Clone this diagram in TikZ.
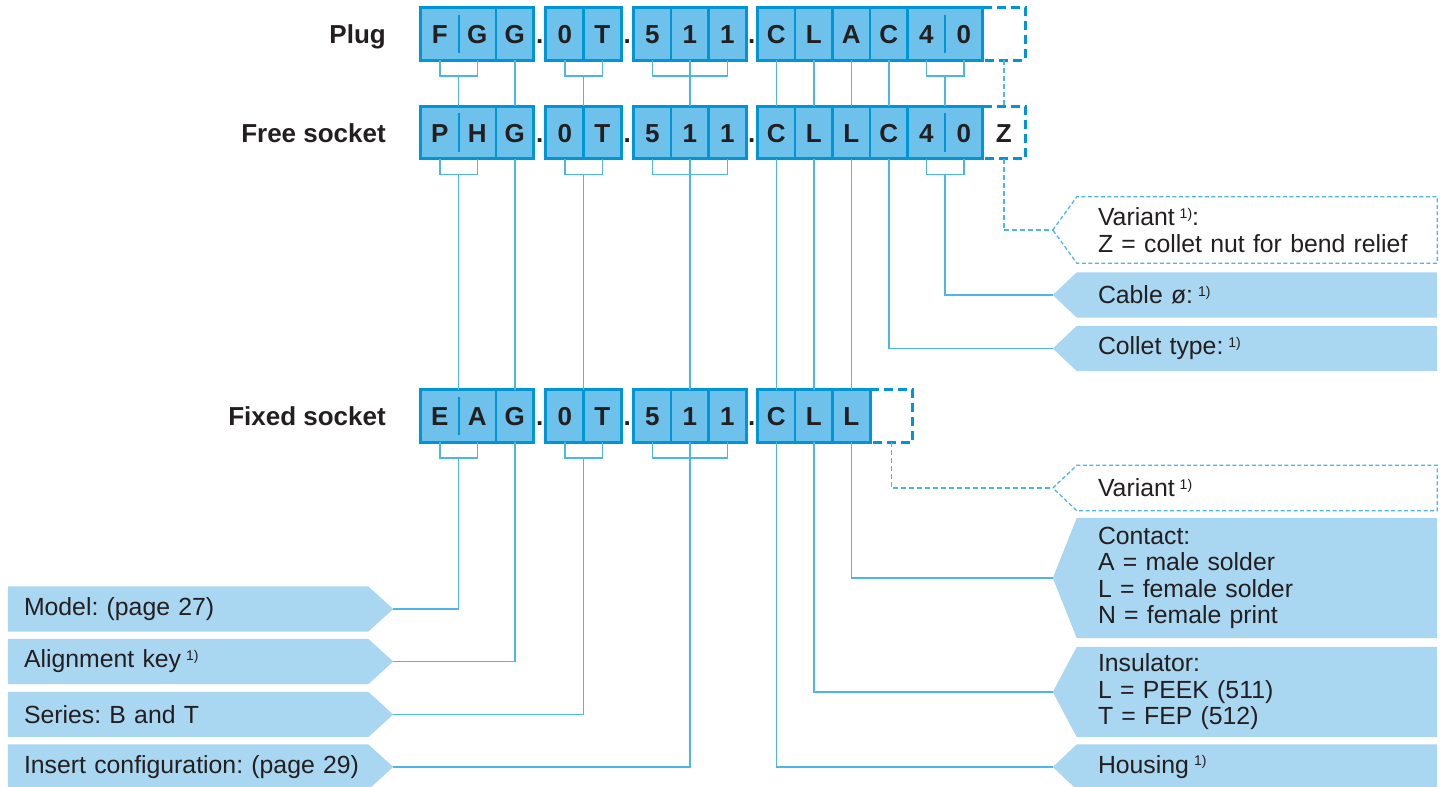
\documentclass[tikz,border=0pt]{standalone}
\usepackage{fontspec}
\setmainfont{Liberation Sans}
\usetikzlibrary{positioning,backgrounds}

\definecolor{cellfill}{HTML}{6EC1EA}
\definecolor{cellline}{HTML}{0095D5}
\definecolor{lblfill}{HTML}{A9D6F1}
\definecolor{linkc}{HTML}{4DB6E6}
\definecolor{textc}{HTML}{231F20}

\newcommand\fnote{\hspace{5pt}{\fontsize{14}{14}\selectfont\raisebox{7.5pt}{1)}}}

\tikzset{
  cell/.style={fill=cellfill, minimum width=37.5pt, minimum height=52pt, inner sep=0pt, text=textc, font=\bfseries\fontsize{26}{26}\selectfont, text height=19pt, text depth=0pt},
  varcell/.style={cell, fill=none, minimum width=42.5pt},
  dotmark/.style={cell, fill=none, minimum width=10pt},
  divline/.style={draw=cellline, line width=2.5pt},
  pairline/.style={draw=cellline, line width=1.8pt},
  grpline/.style={draw=cellline, line width=3.2pt},
  varline/.style={draw=cellline, line width=3pt, dash pattern=on 9pt off 5pt},
  link/.style={draw=linkc, line width=1.5pt},
  varlink/.style={link, dash pattern=on 5pt off 3pt},
  varbox/.style={draw=linkc, line width=1.3pt, dash pattern=on 4pt off 2.5pt, fill=white},
  rowlbl/.style={text=textc, font=\bfseries\fontsize{26}{26}\selectfont, inner sep=0pt},
  lbl/.style={minimum width=360pt, minimum height=45pt, text width=340pt, inner xsep=10pt, inner ysep=0pt, align=left, text=textc, font=\fontsize{24.8}{26.5}\selectfont\frenchspacing},
  lblr/.style={lbl, xshift=11pt},
  lbll/.style={lbl, xshift=6pt},
}

\begin{document}
\begin{tikzpicture}[x=1pt,y=-1pt]
	\useasboundingbox (0,0) rectangle (1449,787);

	% row names
	\node[rowlbl, anchor=base east] (plug) at (386,43.5) {Plug};
	\node[rowlbl, anchor=base east] (free) at (386,142) {Free socket};
	\node[rowlbl, anchor=base east] (fixed) at (386,425.5) {Fixed socket};

	% code cells
	\foreach \i/\x/\a/\b/\c in {1/439.75/F/P/E, 2/477.25/G/H/A, 3/514.75/G/G/G, 4/564.75/0/0/0, 5/602.25/T/T/T, 6/652.25/5/5/5, 7/689.75/1/1/1, 8/727.25/1/1/1, 9/776.25/C/C/C, 10/813.75/L/L/L, 11/851.25/A/L/L} {
		\node[cell] (pg\i) at (\x,34) {\a};
		\node[cell] (fr\i) at (\x,132.5) {\b};
		\node[cell] (fx\i) at (\x,416) {\c};
	}
	\foreach \i/\x/\a/\b in {12/888.75/C/C, 13/926.25/4/4, 14/963.75/0/0} {
		\node[cell] (pg\i) at (\x,34) {\a};
		\node[cell] (fr\i) at (\x,132.5) {\b};
	}
	\node[varcell] (pg15) at (1003.75,34) {};
	\node[varcell] (fr15) at (1003.75,132.5) {Z};
	\node[varcell] (fx12) at (891.25,416) {};

	% dots
	\foreach \x/\j in {539.75/1, 627.25/2, 751.75/3} {
		\node[dotmark] (pgd\j) at (\x,34) {.};
		\node[dotmark] (frd\j) at (\x,132.5) {.};
		\node[dotmark] (fxd\j) at (\x,416) {.};
	}

	% cell borders
	\foreach \rw in {pg,fr} {
		\foreach \i in {2,4,6,7,9,10,11,12} \draw[divline] (\rw\i.north east) -- (\rw\i.south east);
		\foreach \i in {1,13} \draw[pairline] ([yshift=-7pt]\rw\i.north east) -- ([yshift=7pt]\rw\i.south east);
		\draw[grpline] (\rw1.north west) rectangle (\rw3.south east) (\rw4.north west) rectangle (\rw5.south east) (\rw6.north west) rectangle (\rw8.south east) (\rw9.north west) rectangle (\rw14.south east);
		\draw[varline] (\rw14.north east) -- (\rw15.north east) -- (\rw15.south east) -- (\rw14.south east);
	}
	\foreach \i in {2,4,6,7,9,10} \draw[divline] (fx\i.north east) -- (fx\i.south east);
	\draw[pairline] ([yshift=-7pt]fx1.north east) -- ([yshift=7pt]fx1.south east);
	\draw[grpline] (fx1.north west) rectangle (fx3.south east) (fx4.north west) rectangle (fx5.south east) (fx6.north west) rectangle (fx8.south east) (fx9.north west) rectangle (fx11.south east);
	\draw[varline] (fx11.north east) -- (fx12.north east) -- (fx12.south east) -- (fx11.south east);

	% labels (text nodes; their boxes are drawn behind)
	\node[lblr, minimum height=66pt] (var1) at (1257,230) {Variant\fnote:\\Z = collet nut for bend relief};
	\node[lblr] (cable) at (1257,295) {Cable ø:\fnote};
	\node[lblr] (collet) at (1257,348.5) {Collet type:\fnote};
	\node[lblr] (var2) at (1257,488) {Variant\fnote};
	\node[lblr, minimum height=120pt] (contact) at (1257,578) {Contact:\\A = male solder\\L = female solder\\N = female print};
	\node[lblr, minimum height=90pt] (insul) at (1257,692) {Insulator:\\L = PEEK (511)\\T = FEP (512)};
	\node[lblr] (housing) at (1257,767) {Housing\fnote};
	\node[lbll] (model) at (188,609) {Model: (page 27)};
	\node[lbll] (alignkey) at (188,661.5) {Alignment key\fnote};
	\node[lbll] (series) at (188,714.5) {Series: B and T};
	\node[lbll] (insert) at (188,767) {Insert configuration: (page 29)};

	\begin{scope}[on background layer]
		\foreach \n in {cable,collet,contact,insul,housing}
			\fill[lblfill] ([xshift=-35pt]\n.west) -- ([xshift=-11pt]\n.north west) -- ([xshift=-11pt]\n.north east) -- ([xshift=-11pt]\n.south east) -- ([xshift=-11pt]\n.south west) -- cycle;
		\foreach \n in {model,alignkey,series,insert}
			\fill[lblfill] ([xshift=-6pt]\n.north west) -- ([xshift=-6pt]\n.north east) -- ([xshift=19pt]\n.east) -- ([xshift=-6pt]\n.south east) -- ([xshift=-6pt]\n.south west) -- cycle;
		\foreach \n in {var1,var2}
			\draw[varbox] ([xshift=-35pt]\n.west) -- ([xshift=-11pt]\n.north west) -- ([xshift=-11pt]\n.north east) -- ([xshift=-11pt]\n.south east) -- ([xshift=-11pt]\n.south west) -- cycle;
	\end{scope}

	% plug -> free socket
	\draw[link] (pg1.south) -- ++(0,16) -| (pg2.south);
	\draw[link] (pg1.south east) ++(0,16) -- (fr1.north east);
	\draw[link] (pg3.south) -- (fr3.north);
	\draw[link] (pg4.south) -- ++(0,16) -| (pg5.south);
	\draw[link] (pg4.south east) ++(0,16) -- (fr4.north east);
	\draw[link] (pg6.south) -- ++(0,16) -| (pg8.south);
	\draw[link] (pg7.south) -- (fr7.north);
	\foreach \i in {9,10,11,12} \draw[link] (pg\i.south) -- (fr\i.north);
	\draw[link] (pg13.south) -- ++(0,16) -| (pg14.south);
	\draw[link] (pg13.south east) ++(0,16) -- (fr13.north east);
	\draw[varlink] (pg15.south) -- (fr15.north);

	% free socket -> fixed socket
	\draw[link] (fr1.south) -- ++(0,16) -| (fr2.south);
	\draw[link] (fr1.south east) ++(0,16) -- (fx1.north east);
	\draw[link] (fr3.south) -- (fx3.north);
	\draw[link] (fr4.south) -- ++(0,16) -| (fr5.south);
	\draw[link] (fr4.south east) ++(0,16) -- (fx4.north east);
	\draw[link] (fr6.south) -- ++(0,16) -| (fr8.south);
	\draw[link] (fr7.south) -- (fx7.north);
	\foreach \i in {9,10,11} \draw[link] (fr\i.south) -- (fx\i.north);
	\draw[link] (fr12.south) |- ([xshift=-35pt]collet.west);
	\draw[link] (fr13.south) -- ++(0,16) -| (fr14.south);
	\draw[link] (fr13.south east) ++(0,16) |- ([xshift=-35pt]cable.west);
	\draw[varlink] (fr15.south) |- ([xshift=-35pt]var1.west);

	% fixed socket -> labels
	\draw[link] (fx1.south) -- ++(0,16) -| (fx2.south);
	\draw[link] (fx1.south east) ++(0,16) |- ([xshift=19pt]model.east);
	\draw[link] (fx3.south) |- ([xshift=19pt]alignkey.east);
	\draw[link] (fx4.south) -- ++(0,16) -| (fx5.south);
	\draw[link] (fx4.south east) ++(0,16) |- ([xshift=19pt]series.east);
	\draw[link] (fx6.south) -- ++(0,16) -| (fx8.south);
	\draw[link] (fx7.south) |- ([xshift=19pt]insert.east);
	\draw[link] (fx9.south) |- ([xshift=-35pt]housing.west);
	\draw[link] (fx10.south) |- ([xshift=-35pt]insul.west);
	\draw[link] (fx11.south) |- ([xshift=-35pt]contact.west);
	\draw[varlink] (fx12.south) |- ([xshift=-35pt]var2.west);
\end{tikzpicture}
\end{document}
